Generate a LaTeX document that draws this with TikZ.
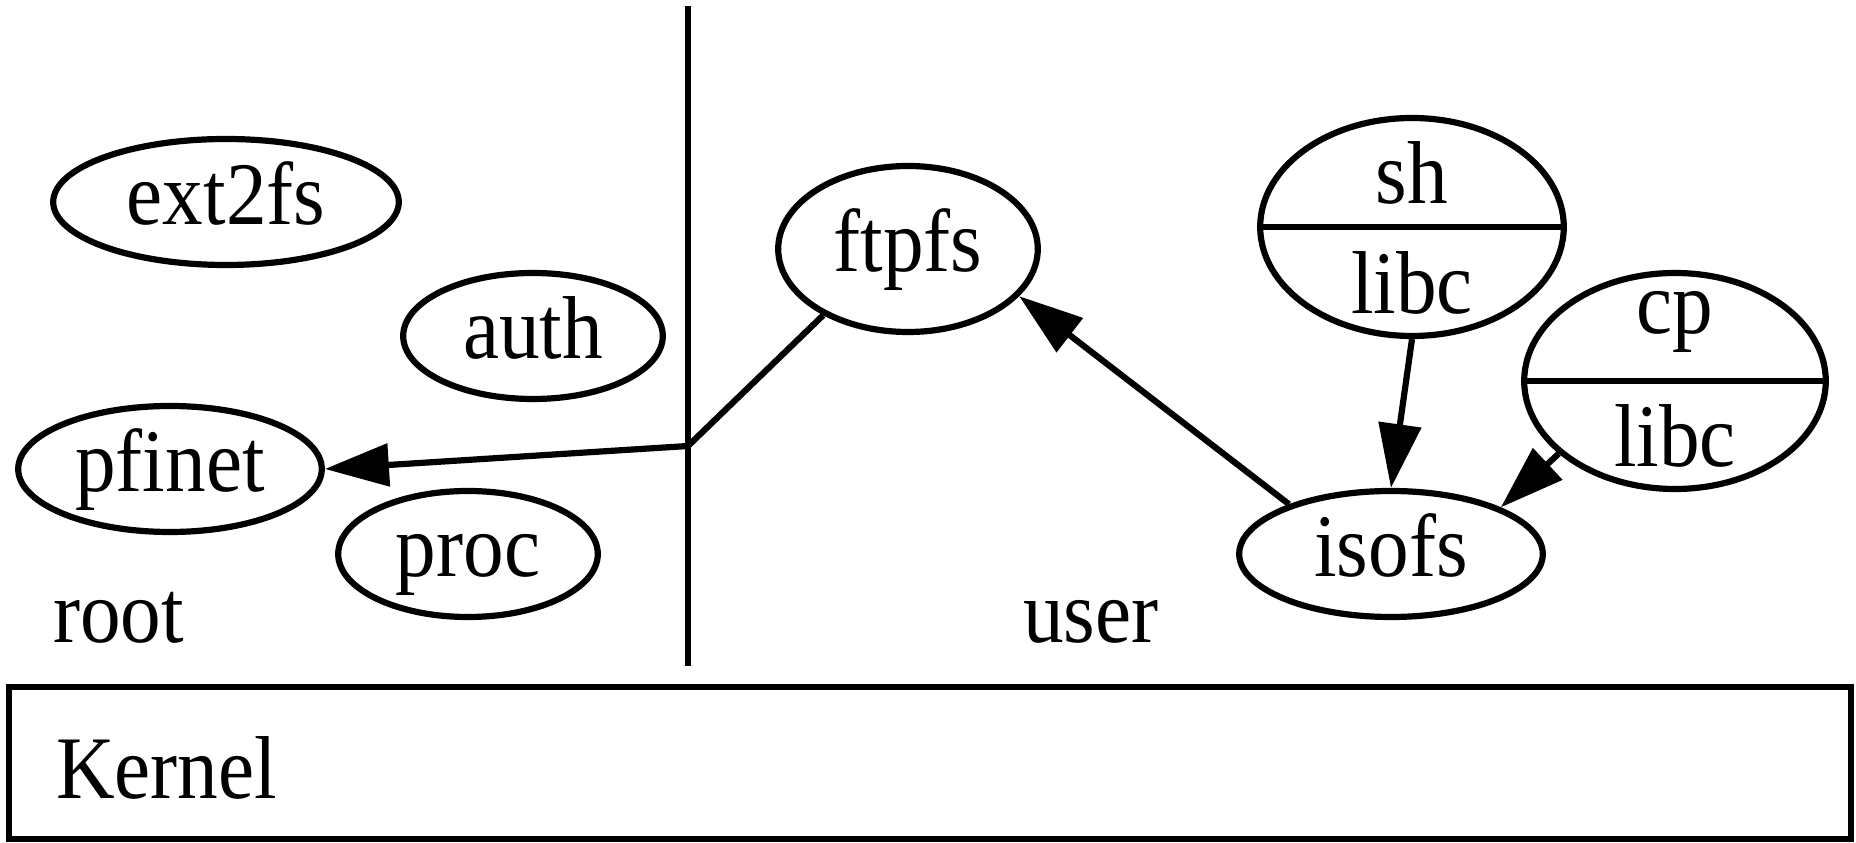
\documentclass[tikz,border=0pt]{standalone}
\usepackage{fontspec}
\setmainfont{Liberation Serif}
\usetikzlibrary{shapes.geometric,arrows.meta}
\newcommand{\tall}[1]{\scalebox{1}[1.1]{#1}}

\begin{document}
\begin{tikzpicture}[x=0.25pt,y=0.25pt,yscale=-1,xscale=1,line width=1.55pt,
  srv/.style={draw, ellipse, inner sep=0pt, minimum height=31.5pt, text height=14pt, text depth=2.8pt, font=\fontsize{20.3}{24}\selectfont},
  lbl/.style={inner sep=0pt, anchor=base, font=\fontsize{20.3}{24}\selectfont},
  edge/.style={-{Triangle[length=16pt,width=10.5pt]}}]
  \useasboundingbox (0,0) rectangle (1856,843);

  %Shape: Ellipse (root side)
  \node[srv, minimum width=86.4pt] (ext2fs) at (226,202) {\tall{ext2fs}};
  \node[srv, minimum width=64.9pt] (auth) at (533,336) {\tall{auth}};
  \node[srv, minimum width=75.9pt] (pfinet) at (170,469) {\tall{pfinet}};
  \node[srv, minimum width=64.9pt] (proc) at (468,554) {\tall{proc}};

  %Shape: Ellipse (user side)
  \node[srv, minimum width=64.9pt, minimum height=41.5pt] (ftpfs) at (908,249) {\tall{ftpfs}};
  \node[srv, minimum width=75.9pt] (isofs) at (1391,554) {\tall{isofs}};

  %Shape: Split ellipses
  \node[srv, minimum width=75.9pt, minimum height=54.5pt] (sh) at (1412,227) {};
  \draw (sh.west) -- (sh.east);
  \node[lbl] (shname) at (1412,204) {\tall{sh}};
  \node[lbl] (shlib) at (1412,314) {\tall{libc}};

  \node[srv, minimum width=75.4pt, minimum height=54pt] (cp) at (1675,381) {};
  \draw (cp.west) -- (cp.east);
  \node[lbl] (cpname) at (1675,334) {\tall{cp}};
  \node[lbl] (cplib) at (1675,467) {\tall{libc}};

  %Shape: Line
  \draw (688,6) -- (688,666);
  \coordinate (split) at (688,446);

  % Edges
  \draw (ftpfs.218) -- (split);
  \draw[edge] (split) -- (pfinet.east);
  \draw[edge] (isofs.154) -- (ftpfs.337);
  \draw[edge] (sh.south) -- (isofs.north);
  \draw[edge] (cp.212) -- (isofs.23);

  % Text Node
  \node[lbl, anchor=base west] (root) at (50,643) {\tall{root}};
  \node[lbl, anchor=base west] (user) at (1020,643) {\tall{user}};

  %Shape: Rectangle
  \draw (9,687) rectangle (1851,839);
  \node[lbl, anchor=base west] (kernel) at (53,799) {\tall{Kernel}};

\end{tikzpicture}
\end{document}
